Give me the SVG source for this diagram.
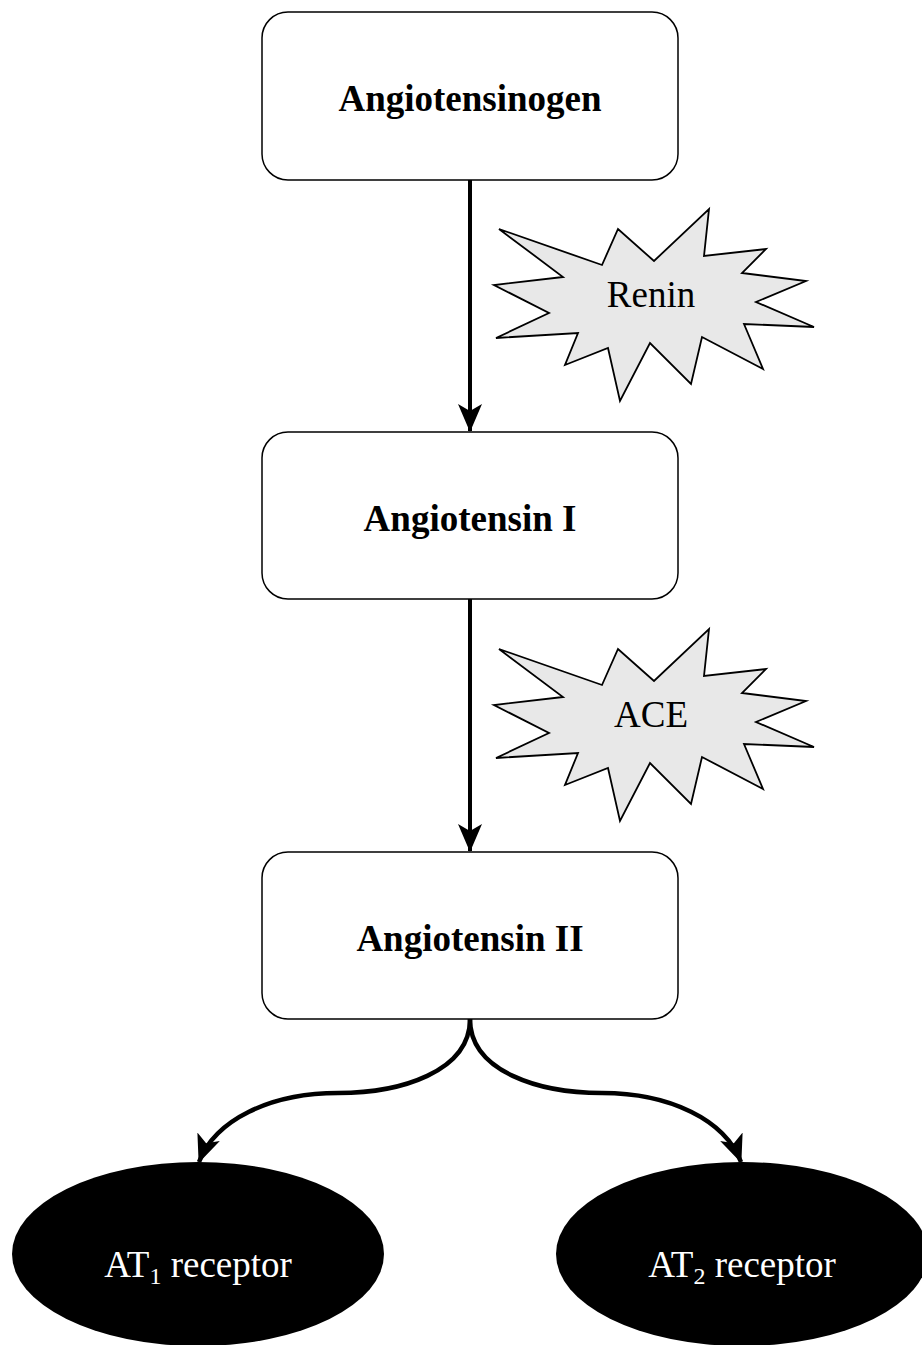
<svg xmlns="http://www.w3.org/2000/svg" width="922" height="1345" viewBox="0 0 922 1345">
<style>
.box{fill:#fff;stroke:#000;stroke-width:1.5}
.burst{fill:#e8e8e8;stroke:#000;stroke-width:1.8;stroke-linejoin:miter}
.conn{fill:none;stroke:#000;stroke-width:4}
.curve{stroke-width:4.5}
.bt{font-family:"Liberation Serif",serif;font-weight:bold;font-size:37px;text-anchor:middle;fill:#000}
.nt{font-family:"Liberation Serif",serif;font-size:37px;text-anchor:middle;fill:#000}
.wt{font-family:"Liberation Serif",serif;font-size:37px;text-anchor:middle;fill:#fff}
</style>
<defs>
<marker id="arr" markerUnits="userSpaceOnUse" viewBox="0 0 28 26" refX="27" refY="13" markerWidth="28" markerHeight="26" orient="auto">
<path d="M0,1 L28,13 L0,25 L7,13 Z" fill="#000"/>
</marker>
<polygon id="star" points="499,229 602,265 618,229 654,261 709,209 704,256 766,249 742,273 806,281 756,302 814,327 744,324 763,369 702,337 691,384 650,343 620,401 608,348 565,365 578,333 496,338 549,313 494,285 563,277"/>
</defs>
<g id="connectors">
<path class="conn" d="M470,180 L470,431" marker-end="url(#arr)"/>
<path class="conn" d="M470,599 L470,851" marker-end="url(#arr)"/>
<path class="conn curve" d="M470,1019 C470,1072 400,1093 338,1093 C270,1093 215,1120 199,1162" marker-end="url(#arr)"/>
<path class="conn curve" d="M470,1019 C470,1072 540,1093 602,1093 C670,1093 725,1120 741,1162" marker-end="url(#arr)"/>
</g>
<g id="angiotensinogen">
<rect class="box" x="262" y="12" width="416" height="168" rx="26"/>
<text class="bt" x="470" y="111">Angiotensinogen</text>
</g>
<g id="renin">
<use href="#star" class="burst"/>
<text class="nt" x="651" y="307">Renin</text>
</g>
<g id="angiotensin1">
<rect class="box" x="262" y="432" width="416" height="167" rx="26"/>
<text class="bt" x="470" y="531">Angiotensin I</text>
</g>
<g id="ace">
<use href="#star" class="burst" transform="translate(0,420)"/>
<text class="nt" x="651" y="727">ACE</text>
</g>
<g id="angiotensin2">
<rect class="box" x="262" y="852" width="416" height="167" rx="26"/>
<text class="bt" x="470" y="951">Angiotensin II</text>
</g>
<g id="at1">
<ellipse cx="198" cy="1254" rx="186" ry="92" fill="#000"/>
<text class="wt" x="198" y="1277">AT<tspan font-size="24" dy="7">1</tspan><tspan dy="-7"> receptor</tspan></text>
</g>
<g id="at2">
<ellipse cx="742" cy="1254" rx="186" ry="92" fill="#000"/>
<text class="wt" x="742" y="1277">AT<tspan font-size="24" dy="7">2</tspan><tspan dy="-7"> receptor</tspan></text>
</g>
</svg>
